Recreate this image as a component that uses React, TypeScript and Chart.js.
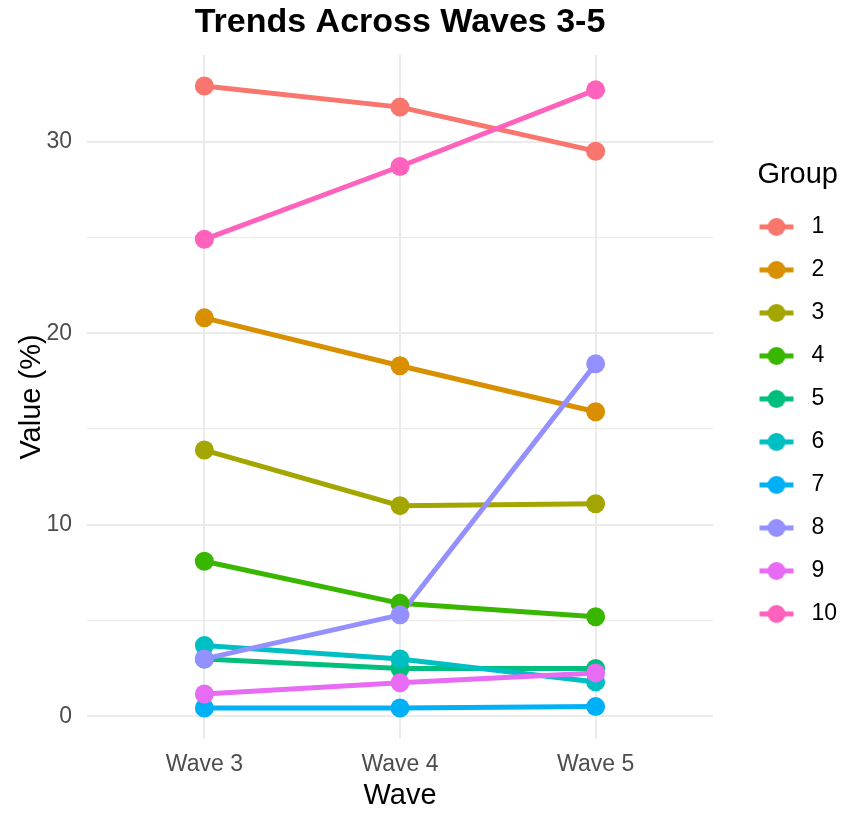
import React, { useEffect, useRef } from "react";
import { Chart, registerables } from "chart.js";

Chart.register(...registerables);

const waves = ["Wave 3", "Wave 4", "Wave 5"];
const groups = ["1", "2", "3", "4", "5", "6", "7", "8", "9", "10"];
const colors = [
  "#F8766D", "#D89000", "#A3A500", "#39B600", "#00BF7D",
  "#00BFC4", "#00B0F6", "#9590FF", "#E76BF3", "#FF62BC",
];

// values per group, one entry per wave
const group1 = [32.9, 31.8, 29.5];
const group2 = [20.8, 18.3, 15.9];
const group3 = [13.9, 11.0, 11.1];
const group4 = [8.1, 5.9, 5.2];
const group5 = [3.0, 2.5, 2.5];
const group6 = [3.7, 3.0, 1.8];
const group7 = [0.44, 0.44, 0.51];
const group8 = [3.0, 5.3, 18.4];
const group9 = [1.17, 1.75, 2.27];
const group10 = [24.9, 28.7, 32.7];
const series = [group1, group2, group3, group4, group5, group6, group7, group8, group9, group10];

const yTicks = [0, 5, 10, 15, 20, 25, 30];
const FONT = "'Liberation Sans', Arial, sans-serif";

// legend key: a short line with a dot on it, like ggplot's point+line key
function makeKey(color: string): HTMLCanvasElement {
  const c = document.createElement("canvas");
  c.width = 62;
  c.height = 24;
  const ctx = c.getContext("2d")!;
  ctx.strokeStyle = color;
  ctx.lineWidth = 5;
  ctx.beginPath();
  ctx.moveTo(24, 12);
  ctx.lineTo(58, 12);
  ctx.stroke();
  ctx.fillStyle = color;
  ctx.beginPath();
  ctx.arc(41, 12, 9, 0, Math.PI * 2);
  ctx.fill();
  return c;
}

export default function App() {
  const canvasRef = useRef<HTMLCanvasElement>(null);

  useEffect(() => {
    document.body.style.margin = "0";
    if (!canvasRef.current) return;
    const keys = colors.map(makeKey);

    const lineSets = series.map((vals, i) => ({
      label: groups[i],
      data: vals.map((v, j) => ({ x: j, y: v })),
      borderColor: colors[i],
      backgroundColor: colors[i],
      borderWidth: 5,
      pointRadius: 0,
      pointHoverRadius: 0,
      tension: 0,
      order: 100 - i,
    }));
    const pointSets = series.map((vals, i) => ({
      label: groups[i] + "_pt",
      data: vals.map((v, j) => ({ x: j, y: v })),
      showLine: false,
      backgroundColor: colors[i],
      borderWidth: 0,
      pointRadius: 9.5,
      pointHoverRadius: 9.5,
      order: 50 - i,
    }));

    const chart = new Chart(canvasRef.current, {
      type: "line",
      data: { datasets: [...lineSets, ...pointSets] as any },
      options: {
        responsive: false,
        animation: false,
        events: [],
        layout: { padding: { right: 13 } },
        scales: {
          x: {
            type: "linear",
            min: -0.6,
            max: 2.6,
            afterBuildTicks: (s: any) => {
              s.ticks = waves.map((_, i) => ({ value: i }));
            },
            afterFit: (s: any) => {
              s.height = 75;
            },
            ticks: {
              callback: (v: any) => waves[v as number] ?? "",
              color: "#4D4D4D",
              font: { family: FONT, size: 23 },
              padding: 12,
              maxRotation: 0,
            },
            grid: { color: "#EBEBEB", lineWidth: 2, drawTicks: false },
            border: { display: false },
            title: {
              display: true,
              text: "Wave",
              color: "#000",
              font: { family: FONT, size: 29 },
              padding: { top: 0, bottom: 1 },
            },
          },
          y: {
            type: "linear",
            min: -1.18,
            max: 34.52,
            afterBuildTicks: (s: any) => {
              s.ticks = yTicks.map((v) => ({ value: v }));
            },
            afterFit: (s: any) => {
              s.width = 87;
            },
            ticks: {
              callback: (v: any) => ((v as number) % 10 === 0 ? String(v) : ""),
              color: "#4D4D4D",
              font: { family: FONT, size: 23 },
              padding: 15,
            },
            grid: {
              color: "#EBEBEB",
              lineWidth: (c: any) => (c.tick && c.tick.value % 10 === 0 ? 2 : 1.2),
              drawTicks: false,
            },
            border: { display: false },
            title: {
              display: true,
              text: "Value (%)",
              color: "#000",
              font: { family: FONT, size: 29 },
              padding: { top: 15, bottom: 0 },
            },
          },
        },
        plugins: {
          title: {
            display: true,
            text: "Trends Across Waves 3-5",
            color: "#000",
            fullSize: false,
            font: { family: FONT, size: 34, weight: "bold" },
            padding: { top: 2, bottom: 12.2 },
          },
          tooltip: { enabled: false },
          legend: {
            position: "right",
            align: "center",
            fullSize: false,
            maxWidth: 125,
            onClick: () => {},
            title: {
              display: true,
              text: "Group",
              color: "#000",
              position: "end",
              font: { family: FONT, size: 29 },
              padding: { top: 12, bottom: 0 },
            },
            labels: {
              usePointStyle: true,
              pointStyleWidth: 67,
              padding: 20,
              color: "#000",
              font: { family: FONT, size: 23 },
              generateLabels: () =>
                groups.map((g, i) => ({
                  text: g,
                  pointStyle: keys[i],
                  fillStyle: colors[i],
                  strokeStyle: colors[i],
                  lineWidth: 0,
                  hidden: false,
                  datasetIndex: i,
                })),
            },
          },
        },
      },
    });

    return () => chart.destroy();
  }, []);

  return (
    <div style={{ width: 851, height: 814, background: "#fff" }}>
      <canvas ref={canvasRef} width={851} height={814} />
    </div>
  );
}
